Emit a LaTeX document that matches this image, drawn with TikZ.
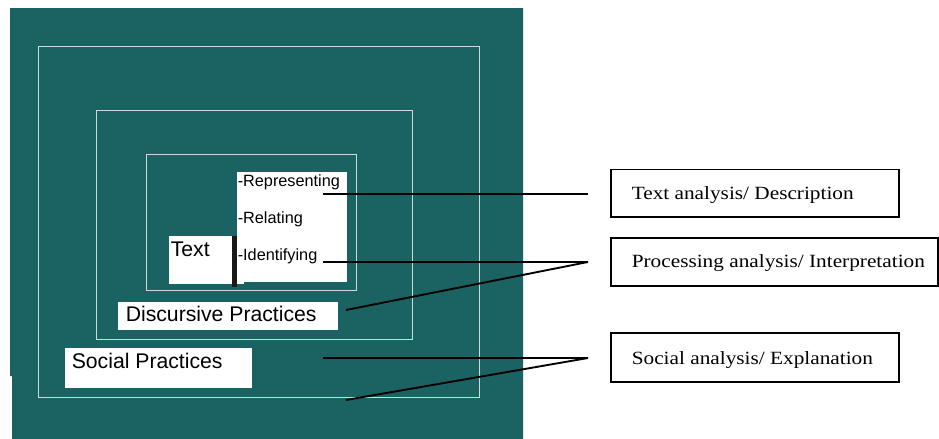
\documentclass[tikz,border=0pt]{standalone}
\usepackage{fontspec}
\setmainfont{Liberation Serif}
\setsansfont{Liberation Sans}
\usetikzlibrary{fit}
\definecolor{tealbg}{RGB}{27,99,99}
\definecolor{framec}{RGB}{200,220,220}
\begin{document}
\begin{tikzpicture}[x=0.75pt,y=-0.75pt,
  box/.style={inner sep=0pt, outer sep=0pt},
  wbox/.style={box, fill=white},
  frm/.style={box, draw=framec, line width=0.75pt},
  rbox/.style={box, draw=black, line width=1.2pt, fill=white},
  bigt/.style={font=\fontsize{15.9}{18}\selectfont\sffamily, anchor=base west, inner sep=0pt},
  smt/.style={font=\fontsize{12.2}{14}\selectfont\sffamily, anchor=base west, inner sep=0pt},
  rt/.style={font=\fontsize{14}{16}\selectfont\rmfamily, anchor=base west, inner sep=0pt, xscale=1.14},
  conn/.style={line width=1.4pt, black}]
\useasboundingbox (0,0) rectangle (939,439);
% background
\fill[tealbg] (10,8) -- (523,8) -- (523,439) -- (12,439) -- (12,376) -- (10,376) -- cycle;
% frames
\node[frm, fit={(38,46) (479,397)}] (outer) {};
\node[frm, fit={(96,110) (412,339)}] (middle) {};
\node[frm, fit={(146,154) (356,290)}] (inner) {};
% white boxes
\node[wbox, fit={(237,171.5) (346.5,282)}] (repbox) {};
\node[wbox, fit={(169,236) (244,284)}] (textbox) {};
\node[box, fill=black!90, fit={(231.5,236) (237,287)}] (bar) {};
\node[wbox, fit={(118,302) (338,330)}] (discbox) {};
\node[wbox, fit={(65,348) (252,388)}] (socbox) {};
% texts
\node[bigt] (ttext) at (170.5,256.5) {Text};
\node[smt] (trep) at (237.5,186.5) {-Representing};
\node[smt] (trel) at (237.5,223) {-Relating};
\node[smt] (tide) at (237.5,260.5) {-Identifying};
\node[bigt] (tdisc) at (125.5,321) {Discursive Practices};
\node[bigt] (tsoc) at (71.5,368) {Social Practices};
% right boxes
\node[rbox, fit={(611,169.5) (899,217)}] (ra) {};
\node[rbox, fit={(611,238) (938,286)}] (rb) {};
\node[rbox, fit={(611,333) (899,382)}] (rc) {};
\node[rt] (tra) at (631.5,199.5) {Text analysis/ Description};
\node[rt] (trb) at (631.5,267) {Processing analysis/ Interpretation};
\node[rt] (trc) at (631.5,364) {Social analysis/ Explanation};
% connector end points
\coordinate (a1) at (323,194);
\coordinate (a2) at (588,194);
\coordinate (b1) at (323,262);
\coordinate (b2) at (588,262);
\coordinate (b3) at (346,310);
\coordinate (c1) at (323,358);
\coordinate (c2) at (588,358);
\coordinate (c3) at (346,400);
\draw[conn] (a1) -- (a2);
\draw[conn] (b1) -- (b2) -- (b3);
\draw[conn] (c1) -- (c2) -- (c3);
\end{tikzpicture}
\end{document}
